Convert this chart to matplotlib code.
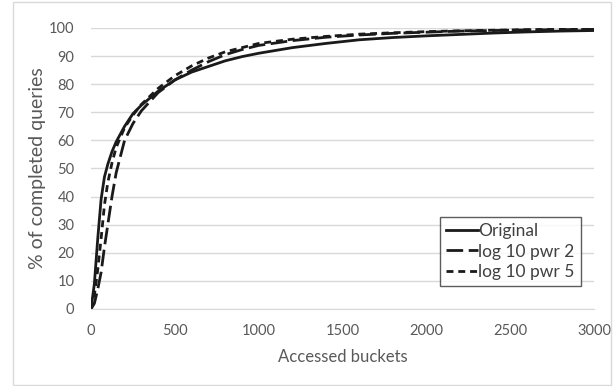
import matplotlib.pyplot as plt
from matplotlib.patches import Rectangle

plt.rcParams['font.family'] = ['Lato', 'DejaVu Sans']
plt.rcParams['lines.scale_dashes'] = False

buckets = [0, 20, 40, 60, 80, 100, 125, 150, 200, 250, 300, 400, 500, 600, 700,
           800, 900, 1000, 1200, 1400, 1600, 1800, 2000, 2200, 2400, 2600, 2800, 3000]
original = [0, 9, 25, 39, 47, 51.5, 56, 59.5, 65, 69.5, 72.5, 77.5, 81.5, 84.3, 86.3,
            88.3, 89.8, 91, 93, 94.5, 95.8, 96.6, 97.2, 97.7, 98.2, 98.6, 98.9, 99.1]
pwr2 = [0, 2, 7, 13, 22, 30, 40, 48.5, 60, 66, 70.5, 77, 81.5, 85, 88,
        90.5, 92.3, 93.8, 95.5, 96.7, 97.5, 98.1, 98.5, 98.9, 99.1, 99.3, 99.4, 99.5]
pwr5 = [0, 5, 14, 25, 37, 45, 52, 57.5, 64.5, 69, 72.8, 78.5, 83, 86.5, 89.3,
        91.5, 93, 94.5, 96, 97, 97.8, 98.3, 98.7, 99, 99.2, 99.4, 99.5, 99.6]

fig = plt.figure(figsize=(6.13, 3.86), dpi=100)
ax = fig.add_axes([0.1485, 0.1995, 0.8205, 0.728])

ax.plot(buckets, original, color='#1a1a1a', lw=2.0, label='Original')
ax.plot(buckets, pwr2, color='#1a1a1a', lw=2.0, dashes=(12, 4), label='log 10 pwr 2')
ax.plot(buckets, pwr5, color='#1a1a1a', lw=2.0, dashes=(5, 3.5), label='log 10 pwr 5')

ax.set_xlim(0, 3000)
ax.set_ylim(0, 100)
ax.set_xticks(range(0, 3001, 500))
ax.set_yticks(range(0, 101, 10))
ax.grid(axis='y', color='#d9d9d9', lw=1)
ax.set_axisbelow(True)
for s in ['top', 'right', 'left']:
    ax.spines[s].set_visible(False)
ax.spines['bottom'].set_color('#d9d9d9')
ax.tick_params(length=0, labelsize=10.5, labelcolor='#595959')
ax.tick_params(axis='x', pad=11)
ax.tick_params(axis='y', pad=12)
ax.set_xlabel('Accessed buckets', fontsize=12, color='#595959')
ax.set_ylabel('% of completed queries', fontsize=14, color='#595959')
ax.xaxis.set_label_coords(0.5, -0.142)
ax.yaxis.set_label_coords(-0.089, 0.5)

leg = ax.legend(loc='lower right', bbox_to_anchor=(0.974, 0.082), fontsize=12.5,
                frameon=True, fancybox=False, edgecolor='#333333', handlelength=1.8,
                handletextpad=0.05, borderpad=0.35, labelspacing=0.25, borderaxespad=0)
leg.get_frame().set_linewidth(1.0)
for t in leg.get_texts():
    t.set_color('#404040')

fig.patches.append(Rectangle((13 / 613, 1 / 386), 598 / 613, 383 / 386, transform=fig.transFigure,
                             fill=False, edgecolor='#d9d9d9', lw=1))

fig.savefig('out.png', dpi=100)
